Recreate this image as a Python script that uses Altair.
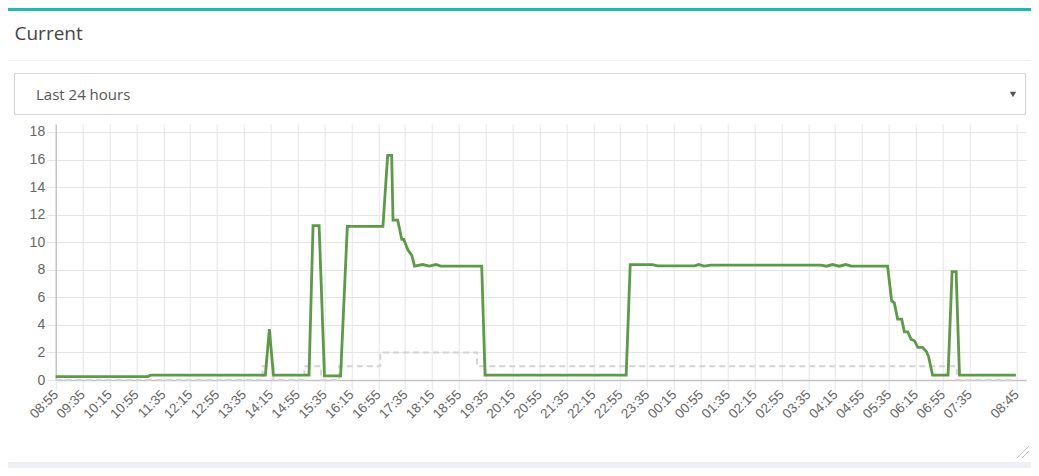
import pandas as pd
import altair as alt

# ---------- data ----------

tick_labels = [
    "08:55", "09:35", "10:15", "10:55", "11:35", "12:15", "12:55", "13:35",
    "14:15", "14:55", "15:35", "16:15", "16:55", "17:35", "18:15", "18:55",
    "19:35", "20:15", "20:55", "21:35", "22:15", "22:55", "23:35", "00:15",
    "00:55", "01:35", "02:15", "02:55", "03:35", "04:15", "04:55", "05:35",
    "06:15", "06:55", "07:35", "08:45",
]
y_ticks = [0, 2, 4, 6, 8, 10, 12, 14, 16, 18]

# green series: measured current
current_times = [
    "08:55", "11:12", "11:16", "14:07", "14:13", "14:19", "15:12", "15:18",
    "15:27", "15:35", "15:59", "16:09", "17:02", "17:09", "17:15", "17:17",
    "17:24", "17:30", "17:33", "17:39", "17:45", "17:49", "18:01", "18:11",
    "18:21", "18:28", "19:29", "19:34", "23:04", "23:10", "23:43", "23:51",
    "00:46", "00:52", "01:00", "01:10", "03:54", "04:02", "04:11", "04:21",
    "04:31", "04:39", "05:33", "05:39", "05:43", "05:48", "05:54", "05:58",
    "06:03", "06:08", "06:13", "06:18", "06:25", "06:31", "06:34", "06:40",
    "07:03", "07:09", "07:15", "07:20", "08:44",
]
current_values = [
    0.25, 0.25, 0.35, 0.35, 3.7, 0.35, 0.35, 11.2,
    11.2, 0.3, 0.3, 11.15, 11.15, 16.3, 16.3, 11.6,
    11.6, 10.2, 10.2, 9.45, 9.05, 8.27, 8.38, 8.27,
    8.38, 8.27, 8.27, 0.35, 0.35, 8.38, 8.38, 8.28,
    8.28, 8.38, 8.27, 8.34, 8.34, 8.26, 8.38, 8.26,
    8.38, 8.27, 8.27, 5.75, 5.6, 4.42, 4.42, 3.5,
    3.5, 2.95, 2.85, 2.37, 2.37, 2.05, 1.7, 0.35,
    0.35, 7.86, 7.86, 0.35, 0.35,
]

# grey dashed series: stepped level
level_times = ["08:55", "14:03", "14:19", "15:05", "15:30", "15:57", "16:58", "19:22", "07:16", "08:44"]
level_values = [0, 1, 0, 1, 0, 1, 2, 1, 0, 0]

DAY_ONE = "2024-05-01"
DAY_TWO = "2024-05-02"
WINDOW_START = "08:55"
WINDOW_END = "08:59"  # on the second day

# page position of the plot area (chart sits 8px into the page)
PLOT_LEFT, PLOT_TOP = 55.7, 124
PLOT_W, PLOT_H = 970.3, 256
CHART_W, CHART_H = 1023, 460

FONT = "Liberation Sans"
HEAD_FONT = "Open Sans"

# ---------- helpers ----------

def stamp(hhmm: str, next_day: bool = False) -> pd.Timestamp:
    """Times before the window start belong to the following day."""
    day = DAY_TWO if (next_day or hhmm < WINDOW_START) else DAY_ONE
    return pd.Timestamp(f"{day} {hhmm}")


def as_datetime(ts: pd.Timestamp) -> alt.DateTime:
    return alt.DateTime(year=ts.year, month=ts.month, date=ts.day,
                        hours=ts.hour, minutes=ts.minute)


def px(x):
    return x - PLOT_LEFT


def py(y):
    return y - PLOT_TOP


dummy = pd.DataFrame({"k": [0]})


def box(x1, y1, x2, y2, **style):
    return alt.Chart(dummy).mark_rect(**style).encode(
        x=alt.value(px(x1)), x2=alt.value(px(x2)),
        y=alt.value(py(y1)), y2=alt.value(py(y2)),
    )


def line(x1, y1, x2, y2, **style):
    return alt.Chart(dummy).mark_rule(**style).encode(
        x=alt.value(px(x1)), x2=alt.value(px(x2)),
        y=alt.value(py(y1)), y2=alt.value(py(y2)),
    )


def label(x, y, txt, **style):
    return alt.Chart(dummy).mark_text(text=txt, **style).encode(
        x=alt.value(px(x)), y=alt.value(py(y)),
    )

# ---------- chart ----------

current = pd.DataFrame({"time": [stamp(t) for t in current_times], "value": current_values})
level = pd.DataFrame({"time": [stamp(t) for t in level_times], "value": level_values})

x_enc = alt.X(
    "time:T",
    title=None,
    scale=alt.Scale(domain=[as_datetime(stamp(WINDOW_START)),
                            as_datetime(stamp(WINDOW_END, next_day=True))]),
    axis=alt.Axis(
        values=[as_datetime(stamp(t)) for t in tick_labels],
        format="%H:%M",
        labelAngle=-45,
        labelAlign="right",
        labelBaseline="middle",
        labelOverlap=False,
        labelFlush=False,
        labelBound=False,
        labelPadding=2,
        labelFont=FONT,
        labelFontSize=13.5,
        labelColor="#666666",
        tickSize=10,
        tickColor="#e5e5e5",
        gridColor="#e5e5e5",
        domainColor="#c4c4c4",
        domainWidth=1.5,
    ),
)
y_enc = alt.Y(
    "value:Q",
    title=None,
    scale=alt.Scale(domain=[0, 18.58], nice=False, zero=True),
    axis=alt.Axis(
        values=y_ticks,
        labelFont=FONT,
        labelFontSize=14,
        labelColor="#666666",
        labelPadding=2,
        tickSize=9,
        tickColor="#e5e5e5",
        gridColor="#e5e5e5",
        domainColor="#b3b3b3",
    ),
)

level_line = alt.Chart(level).mark_line(
    color="#d3d3d3", strokeWidth=2, strokeDash=[6, 4], interpolate="step-after"
).encode(x=x_enc, y=y_enc)

current_line = alt.Chart(current).mark_line(
    color="#5c9a45", strokeWidth=2.8
).encode(x=x_enc, y=y_enc)

# panel header, dropdown and frame
decor = [
    box(8, 8, 1031, 11, color="#14bfae"),
    label(14.5, 40, "Current", align="left", baseline="alphabetic",
          font=HEAD_FONT, fontSize=19, color="#444444"),
    line(8, 60.5, 1031, 60.5, color="#f1f1f1", strokeWidth=1),
    box(14.5, 73.5, 1025.5, 114.5, fill="#ffffff", stroke="#d2d6de", strokeWidth=1),
    label(36, 94.5, "Last 24 hours", align="left", baseline="middle",
          font=HEAD_FONT, fontSize=15, color="#555555"),
    alt.Chart(dummy).mark_point(shape="triangle-down", filled=True, size=40,
                                color="#555555", opacity=1).encode(
        x=alt.value(px(1013)), y=alt.value(py(94.5))),
    box(8, 462, 1031, 468, color="#ecf0f5"),
    line(1017, 458, 1029, 446, color="#c2c2c2", strokeWidth=1),
    line(1022, 458, 1029, 451, color="#c2c2c2", strokeWidth=1),
]

chart = (
    alt.layer(*decor, level_line, current_line)
    .properties(
        width=PLOT_W,
        height=PLOT_H,
        autosize=alt.AutoSizeParams(type="none"),
        padding={"left": PLOT_LEFT - 8, "top": PLOT_TOP - 8,
                 "right": CHART_W - (PLOT_LEFT - 8) - PLOT_W,
                 "bottom": CHART_H - (PLOT_TOP - 8) - PLOT_H},
        background="#ffffff",
    )
    .configure_view(strokeWidth=0)
)

chart.save("out.html", embed_options={"renderer": "svg", "actions": False})
